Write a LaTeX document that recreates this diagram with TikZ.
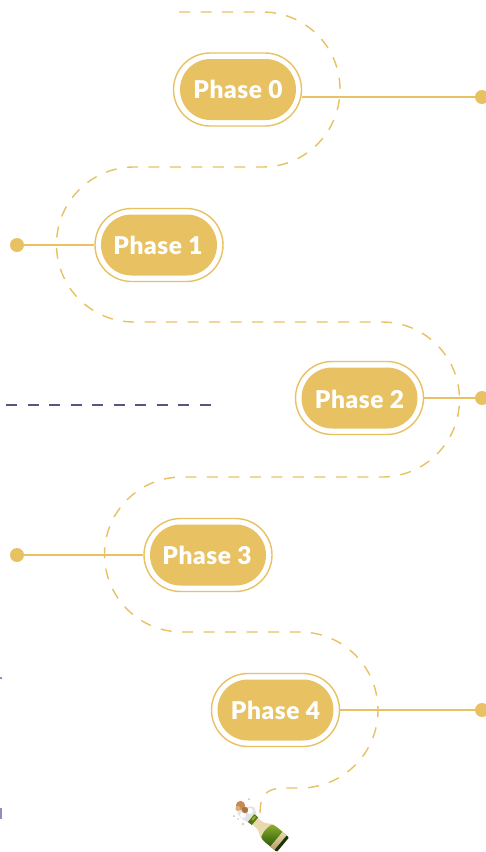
\documentclass[tikz,border=0pt]{standalone}
\usepackage{fontspec}
\setmainfont{Lato}[BoldFont={Lato Black}]
\definecolor{gold}{HTML}{E8C163}
\definecolor{navy}{HTML}{5A5580}
\definecolor{edgeblue}{HTML}{8C8FC0}
\definecolor{cream}{HTML}{EAD9AE}
\definecolor{tanlabel}{HTML}{D6B678}
\definecolor{bottlegreen}{HTML}{4F7A14}
\definecolor{darkgreen}{HTML}{234A10}
\definecolor{lightgreen}{HTML}{8FAE30}
\definecolor{cork}{HTML}{C68A4C}
\tikzset{
  pilltext/.style={text=white,font=\fontsize{24.5pt}{26pt}\selectfont\addfontfeatures{LetterSpace=2.5}\bfseries,inner sep=0pt},
  innerpill/.style={fill=gold,rounded corners=30.5pt,minimum width=116pt,minimum height=61pt,inner sep=0pt},
  outerpill/.style={draw=gold,line width=1.4pt,fill=white,rounded corners=36.5pt,minimum width=128pt,minimum height=73pt,inner sep=0pt},
  dotn/.style={circle,fill=gold,minimum size=14pt,inner sep=0pt},
  link/.style={draw=gold,line width=1.4pt},
  route/.style={draw=gold,line width=1.4pt,dash pattern=on 11pt off 10.5pt},
}
\begin{document}
\begin{tikzpicture}[x=1pt,y=-1pt]
\useasboundingbox[fill=white] (0,0) rectangle (485,852);
% route
\draw[route] (179,12) -- (262.5,12) arc[start angle=-90,end angle=90,radius=77.5]
  -- (134,167) arc[start angle=270,end angle=90,radius=77.5]
  -- (382,322) arc[start angle=-90,end angle=90,radius=77.5]
  -- (182,477) arc[start angle=270,end angle=90,radius=77.5]
  -- (300,632) arc[start angle=-90,end angle=90,radius=78]
  -- (282,788) .. controls (266,789) and (260,795) .. (260,814);
% left dashed line
\draw[navy,line width=1.3pt,dash pattern=on 11pt off 10.5pt] (6,405) coordinate (ds) -- (212,405) coordinate (de);
% edge fragments
\fill[edgeblue] (0,677) rectangle (2,679);
\fill[edgeblue] (0,808) rectangle (2,819);
% Phase 0
\node[dotn] (d0) at (482,97) {};
\draw[link] (302,97) coordinate (c0) -- (d0.center);
\node[outerpill] (o0) at (237.5,89.5) {};
\node[innerpill] (i0) at (238,89.5) {};
\node[pilltext] (t0) at (238,89) {Phase 0};
% Phase 1
\node[dotn] (d1) at (17,245) {};
\node[outerpill] (o1) at (159,245) {};
\draw[link] (d1) -- (o1);
\node[innerpill] (i1) at (159,245) {};
\node[pilltext] (t1) at (158,245.5) {Phase 1};
% Phase 2
\node[dotn] (d2) at (482,398) {};
\node[outerpill] (o2) at (359.5,398) {};
\draw[link] (o2) -- (d2);
\node[innerpill] (i2) at (359.5,398) {};
\node[pilltext] (t2) at (359.5,399.5) {Phase 2};
% Phase 3
\node[dotn] (d3) at (17,555) {};
\node[outerpill] (o3) at (208,555) {};
\draw[link] (d3) -- (o3);
\node[innerpill] (i3) at (208,555) {};
\node[pilltext] (t3) at (207,555.5) {Phase 3};
% Phase 4
\node[dotn] (d4) at (482,710) {};
\node[outerpill] (o4) at (275.5,710) {};
\draw[link] (o4) -- (d4);
\node[innerpill] (i4) at (275.5,710) {};
\node[pilltext] (t4) at (275.5,710.5) {Phase 4};
% bottle
\begin{scope}
\clip (0,0) rectangle (485,852);
% foam and spray
\fill[gray!22] (237,813) .. controls (242,808) and (248,805) .. (254,807)
  .. controls (256,812) and (257,815) .. (257,819) -- (250,824)
  .. controls (246,821) and (241,819) .. (237,813) -- cycle;
\fill[white] (243,815) circle[radius=3];
\fill[white] (250,811) circle[radius=3];
\fill[gray!50] (249,799) circle[radius=1];
\fill[gray!50] (234,816) circle[radius=1];
\fill[gray!50] (243,824) circle[radius=1.1];
\fill[gray!45] (238,819) circle[radius=.8];
% cork
\fill[cork] (240.5,805.5) circle[radius=4.6];
\fill[cork!85!black] (245,810) circle[radius=3.2];
\fill[cork!70!white] (238,808.5) circle[radius=2.6];
\begin{scope}[shift={(252.7,819.3)},rotate=-40]
% neck and shoulder
\fill[cream] (2,-4) -- (10,-4.6) .. controls (14,-5.5) and (16,-9) .. (21,-9.6)
  -- (21,9.6) .. controls (16,9) and (14,5.5) .. (10,4.6) -- (2,4) -- cycle;
% green body
\shade[top color=lightgreen,bottom color=darkgreen,middle color=bottlegreen]
  (18,-8) .. controls (19,-9.3) and (22,-9.6) .. (25,-9.6) -- (38.5,-9.4) -- (38.5,9.4) -- (25,9.6)
  .. controls (22,9.6) and (19,9.3) .. (18,8) .. controls (16,3) and (16,-3) .. (18,-8) -- cycle;
% lower label
\shade[top color=cream,bottom color=tanlabel!85!black] (31,-9.5) -- (36.5,-9.45) -- (36.5,9.45) -- (31,9.5) -- cycle;
% bottom
\fill[darkgreen!70!black] (36.5,-9.45) -- (39.5,-8.8) -- (39.5,8.8) -- (36.5,9.45) -- cycle;
% foil ring
\fill[bottlegreen] (-2,-5) rectangle (3,5);
\fill[lightgreen] (-1,-3.8) rectangle (1.2,1);
\end{scope}
\end{scope}
\end{tikzpicture}
\end{document}
